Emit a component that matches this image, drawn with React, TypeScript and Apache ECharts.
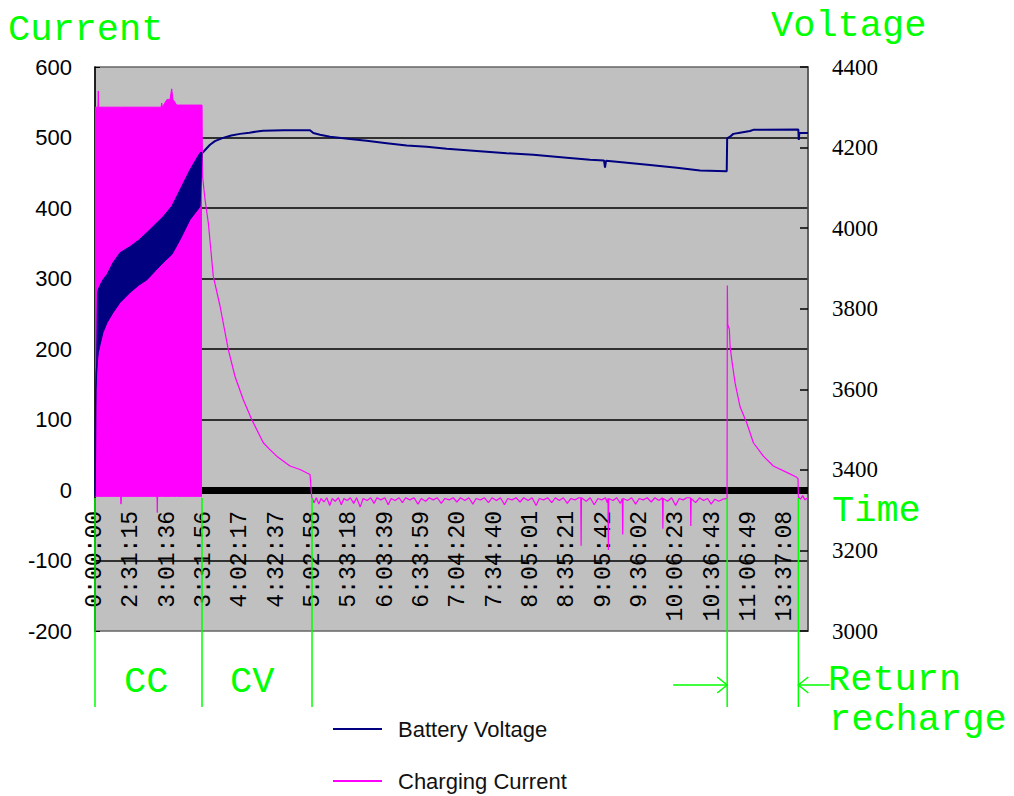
import React, { useEffect, useRef } from 'react';
import * as echarts from 'echarts';

// ---------- Tick labels (one per 10 x-units) ----------
const X_LABELS = [
  '0:00:00', '2:31:15', '3:01:36', '3:31:56', '4:02:17', '4:32:37', '5:02:58',
  '5:33:18', '6:03:39', '6:33:59', '7:04:20', '7:34:40', '8:05:01', '8:35:21',
  '9:05:42', '9:36:02', '10:06:23', '10:36:43', '11:06:49', '13:37:08',
];
const X_MAX = 196.25;

// ---------- Battery voltage, CC phase (oscillating band: low / high envelope) ----------
const VB_X = [0, 0.15, 0.28, 0.46, 0.69, 0.91, 1.38, 2.2, 3.3, 4.95, 6.88, 9.63, 12.0, 14.31, 18.72, 21.19, 23.4, 26.15, 28.9, 29.18, 29.45];
const VB_LOW = [3334, 3420, 3600, 3640, 3672, 3691, 3710, 3741, 3765, 3790, 3815, 3840, 3858, 3872, 3914, 3935, 3971, 4021, 4053, 4110, 4185];
const VB_UP = [3483, 3560, 3642, 3660, 3840, 3848, 3858, 3872, 3885, 3914, 3939, 3954, 3970, 3989, 4028, 4055, 4095, 4145, 4187, 4188, 4188];

// ---------- Battery voltage, CV phase and after ----------
const V_POINTS: [number, number][] = [
  [29.45, 4186], [31.65, 4207], [33.0, 4216], [35.23, 4224], [37.5, 4230], [39.91, 4234],
  [42.5, 4237], [44.59, 4240], [46.24, 4242], [52.0, 4243], [59.18, 4243], [60.09, 4236],
  [61.93, 4232], [64.68, 4227], [70.19, 4221], [74.79, 4217], [80.29, 4211], [85.8, 4205],
  [91.3, 4202], [96.81, 4197], [105.97, 4191], [113.32, 4186], [120.64, 4182], [129.84, 4175],
  [136.25, 4170], [140.1, 4168], [140.38, 4150], [140.65, 4167], [143.6, 4165], [152.77, 4157],
  [160.12, 4150], [166.53, 4143], [173.88, 4141], [174.0, 4223], [174.78, 4227], [175.69, 4234],
  [177.53, 4237], [180.28, 4241], [181.19, 4244], [193.58, 4245], [193.72, 4219], [193.86, 4236],
  [196.25, 4236],
];

// ---------- Charging current, CC phase (solid oscillation block: top / bottom) ----------
const CC_X = [0, 0.8, 0.91, 1.02, 7.05, 7.16, 7.27, 17.05, 17.15, 17.25, 18.2, 18.36, 18.5, 19.82, 20.64, 21.11, 21.47, 22.49, 29.18, 29.45];
const CC_TOP = [543, 543, 566, 543, 543, 543, 543, 543, 543, 543, 543, 549, 543, 554, 554, 569, 554, 546, 546, 546];
const CC_BOTTOM = [-9, -9, -9, -9, -9, -20, -9, -9, -32, -9, -9, -9, -9, -9, -9, -9, -9, -9, -9, -9];

// ---------- Charging current, CV phase, idle, and return recharge ----------
const I_POINTS: [number, number][] = [
  [29.45, 546], [29.6, 445], [30.28, 412], [31.19, 379], [32.56, 303], [34.41, 261], [36.69, 199],
  [38.54, 161], [40.82, 128], [43.13, 100], [46.32, 67], [48.0, 58], [50.01, 48], [53.67, 34],
  [56.43, 29], [59.18, 22], [59.65, -10],
  [60.3, -18], [60.9, -11], [61.6, -20], [62.2, -12], [63.0, -17], [63.8, -11], [64.6, -22],
  [65.3, -12], [66.1, -16], [67.0, -11], [67.8, -21], [68.5, -12], [69.4, -15], [70.3, -11],
  [71.2, -19], [72.0, -11], [73.0, -24], [73.8, -12], [74.9, -15], [75.9, -11], [76.8, -19],
  [77.6, -11], [78.7, -14], [79.8, -11], [80.7, -21], [81.5, -12], [82.6, -15], [83.7, -11],
  [84.6, -18], [85.5, -11], [86.7, -14], [87.8, -11], [88.9, -20], [89.8, -12], [91.0, -16],
  [92.0, -11], [93.1, -14], [94.2, -11], [95.3, -19], [96.3, -12], [97.5, -14], [98.6, -11],
  [99.6, -17], [100.6, -11], [101.8, -15], [102.9, -11], [104.0, -20], [104.9, -12], [106.1, -14],
  [107.2, -11], [108.3, -18], [109.3, -11], [110.5, -15], [111.6, -11], [112.7, -21], [113.6, -12],
  [114.8, -14], [115.9, -11], [117.0, -17], [118.0, -11], [119.2, -15], [120.3, -11], [121.4, -22],
  [122.3, -12], [123.5, -14], [124.6, -11], [125.7, -18], [126.7, -11], [127.8, -15], [128.9, -11],
  [130.0, -19], [131.0, -12], [132.1, -14], [133.2, -11], [133.7, -11], [133.8, -79], [133.9, -11],
  [135.2, -16], [136.3, -11], [137.4, -21], [138.4, -12], [139.5, -14], [140.5, -11], [141.0, -18],
  [141.2, -12], [141.3, -85], [141.4, -12], [142.6, -15], [143.6, -11], [144.6, -19], [145.15, -12],
  [145.25, -63], [145.35, -12], [146.6, -15], [147.7, -11], [148.8, -20], [149.8, -12], [150.9, -14],
  [152.0, -11], [153.1, -17], [154.1, -11], [155.2, -15], [156.2, -11], [156.3, -55], [156.4, -12],
  [157.6, -16], [158.7, -11], [159.8, -22], [160.8, -12], [161.9, -14], [162.9, -11], [163.9, -11],
  [164.0, -51], [164.1, -12], [165.3, -18], [166.4, -11], [167.5, -15], [168.6, -12], [169.6, -20],
  [170.6, -13], [171.7, -16], [172.8, -13], [173.97, -12],
  [174.05, 290], [174.15, 235], [174.6, 228], [174.8, 204], [175.26, 185], [176.17, 152],
  [177.55, 118], [179.39, 95], [181.21, 67], [183.96, 48], [186.71, 34], [190.4, 25], [193.15, 18],
  [193.5, 16], [193.6, -10], [194.2, -13], [194.8, -8], [195.4, -14], [196.25, -11],
];

// phase boundaries (x-units): start, CC end, CV end, recharge start, recharge end
const PHASE_X = [0, 29.45, 59.73, 174.0, 193.6];

const NAVY = '#000080';
const MAGENTA = '#FF00FF';
const GREEN = '#00FF00';
const MONO = 'Liberation Mono';

export default function App() {
  const ref = useRef<HTMLDivElement>(null);

  useEffect(() => {
    if (!ref.current) return;
    const chart = echarts.init(ref.current, null, { renderer: 'svg' });

    const ccTop = CC_X.map((x, i) => [x, CC_TOP[i]]);
    const ccBottom = CC_X.map((x, i) => [x, CC_BOTTOM[i]]);

    const lineBase = {
      type: 'line',
      showSymbol: false,
      symbol: 'none',
      silent: true,
      animation: false,
    };

    chart.setOption({
      animation: false,
      backgroundColor: '#ffffff',
      grid: {
        left: 95,
        top: 67,
        right: 206,
        bottom: 165,
        show: true,
        backgroundColor: '#C0C0C0',
        borderColor: '#666666',
        borderWidth: 1.5,
      },
      legend: {
        orient: 'vertical',
        left: 333,
        top: 718,
        padding: 0,
        itemWidth: 49,
        itemHeight: 2,
        itemGap: 30,
        icon: 'rect',
        selectedMode: false,
        data: [
          { name: 'Battery Voltage', itemStyle: { color: NAVY } },
          { name: 'Charging Current', itemStyle: { color: MAGENTA } },
        ],
        textStyle: {
          fontFamily: 'Liberation Sans',
          fontSize: 22,
          color: '#111',
          padding: [0, 0, 0, 11],
        },
      },
      xAxis: {
        type: 'value',
        min: 0,
        max: X_MAX,
        interval: 10,
        axisLine: {
          show: true,
          onZero: true,
          onZeroAxisIndex: 0,
          lineStyle: { color: '#000', width: 7, cap: 'butt' },
        },
        axisTick: { show: false },
        splitLine: { show: false },
        axisLabel: {
          rotate: 90,
          margin: -120,
          fontFamily: MONO,
          fontSize: 23,
          color: '#000',
          showMaxLabel: false,
          hideOverlap: false,
          formatter: (v: number) => {
            const i = Math.round(v / 10);
            return Math.abs(v - i * 10) < 1e-6 && X_LABELS[i] ? X_LABELS[i] : '';
          },
        },
      },
      yAxis: [
        {
          type: 'value',
          min: -200,
          max: 600,
          interval: 100,
          position: 'left',
          axisLine: { show: true, onZero: false, lineStyle: { color: '#000', width: 1.5 } },
          axisTick: { show: true, inside: true, length: 5, lineStyle: { color: '#000' } },
          axisLabel: {
            margin: 23,
            fontFamily: 'Liberation Sans',
            fontSize: 22,
            color: '#000',
            formatter: (v: number) => String(v),
          },
          splitLine: {
            show: true,
            showMinLine: false,
            showMaxLine: false,
            lineStyle: { color: '#000', width: 1.5 },
          },
        },
        {
          type: 'value',
          min: 3000,
          max: 4400,
          interval: 200,
          position: 'right',
          axisLine: { show: true, onZero: false, lineStyle: { color: '#555', width: 1.5 } },
          axisTick: { show: true, inside: true, length: 8, lineStyle: { color: '#000', width: 1.5 } },
          axisLabel: {
            margin: 24,
            fontFamily: 'Liberation Serif',
            fontSize: 23,
            color: '#000',
            formatter: (v: number) => String(v),
          },
          splitLine: { show: false },
        },
      ],
      series: [
        {
          ...lineBase,
          name: 'cc-top',
          yAxisIndex: 0,
          data: ccTop,
          color: MAGENTA,
          lineStyle: { color: MAGENTA, width: 1 },
          areaStyle: { color: MAGENTA, opacity: 1 },
        },
        {
          ...lineBase,
          name: 'cc-bottom',
          yAxisIndex: 0,
          data: ccBottom,
          color: MAGENTA,
          lineStyle: { color: MAGENTA, width: 1 },
          areaStyle: { color: MAGENTA, opacity: 1 },
        },
        {
          ...lineBase,
          name: 'Battery Voltage',
          yAxisIndex: 1,
          data: V_POINTS,
          color: NAVY,
          itemStyle: { color: NAVY },
          lineStyle: { color: NAVY, width: 2 },
        },
        {
          ...lineBase,
          name: 'Charging Current',
          yAxisIndex: 0,
          data: I_POINTS,
          color: MAGENTA,
          itemStyle: { color: MAGENTA },
          lineStyle: { color: MAGENTA, width: 1.2 },
        },
      ],
    });

    const px = (u: number) => chart.convertToPixel({ xAxisIndex: 0 }, u) as number;
    const vpt = (u: number, v: number) =>
      chart.convertToPixel({ xAxisIndex: 0, yAxisIndex: 1 }, [u, v]) as number[];
    const [p0, p1, p2, p3, p4] = PHASE_X.map(px);

    // CC-phase voltage band (between low and high envelopes), placed with the chart's own scales
    const bandUpper = VB_X.map((x, i) => vpt(x, VB_UP[i]));
    const bandLower = VB_X.map((x, i) => vpt(x, VB_LOW[i])).reverse();

    const greenText = (text: string, x: number, y: number) => ({
      type: 'text',
      silent: true,
      z: 100,
      style: {
        text,
        x,
        y,
        fill: GREEN,
        fontFamily: MONO,
        fontSize: 37,
        textAlign: 'left',
        textVerticalAlign: 'middle',
      },
    });
    const greenLine = (x1: number, y1: number, x2: number, y2: number) => ({
      type: 'line',
      silent: true,
      z: 100,
      shape: { x1, y1, x2, y2 },
      style: { stroke: GREEN, lineWidth: 1.5 },
    });
    const greenPoly = (points: number[][]) => ({
      type: 'polyline',
      silent: true,
      z: 100,
      shape: { points },
      style: { stroke: GREEN, lineWidth: 1.5, fill: null },
    });

    const yTop = 498;
    const yBot = 707;
    const yArrow = 685;

    chart.setOption({
      graphic: [
        {
          type: 'polygon',
          silent: true,
          z: 50,
          shape: { points: bandUpper.concat(bandLower) },
          style: { fill: NAVY, stroke: NAVY, lineWidth: 1 },
        },
        greenLine(p0, yTop, p0, yBot),
        greenLine(p1, yTop, p1, yBot),
        greenLine(p2, yTop, p2, yBot),
        greenLine(p3, yTop, p3, yBot),
        greenLine(p4, yTop, p4, yBot),
        greenLine(p3 - 54, yArrow, p3, yArrow),
        greenPoly([[p3 - 10, yArrow - 8], [p3, yArrow], [p3 - 10, yArrow + 8]]),
        greenLine(p4, yArrow, p4 + 31, yArrow),
        greenPoly([[p4 + 10, yArrow - 8], [p4, yArrow], [p4 + 10, yArrow + 8]]),
        greenText('Current', 8, 30),
        greenText('Voltage', 771, 26),
        greenText('Time', 832, 511),
        greenText('CC', 124, 682),
        greenText('CV', 230, 682),
        greenText('Return', 828, 680),
        greenText('recharge', 829, 720),
      ],
    });

    return () => chart.dispose();
  }, []);

  return (
    <div
      ref={ref}
      style={{ position: 'fixed', left: 0, top: 0, width: 1014, height: 796, background: '#fff' }}
    />
  );
}
